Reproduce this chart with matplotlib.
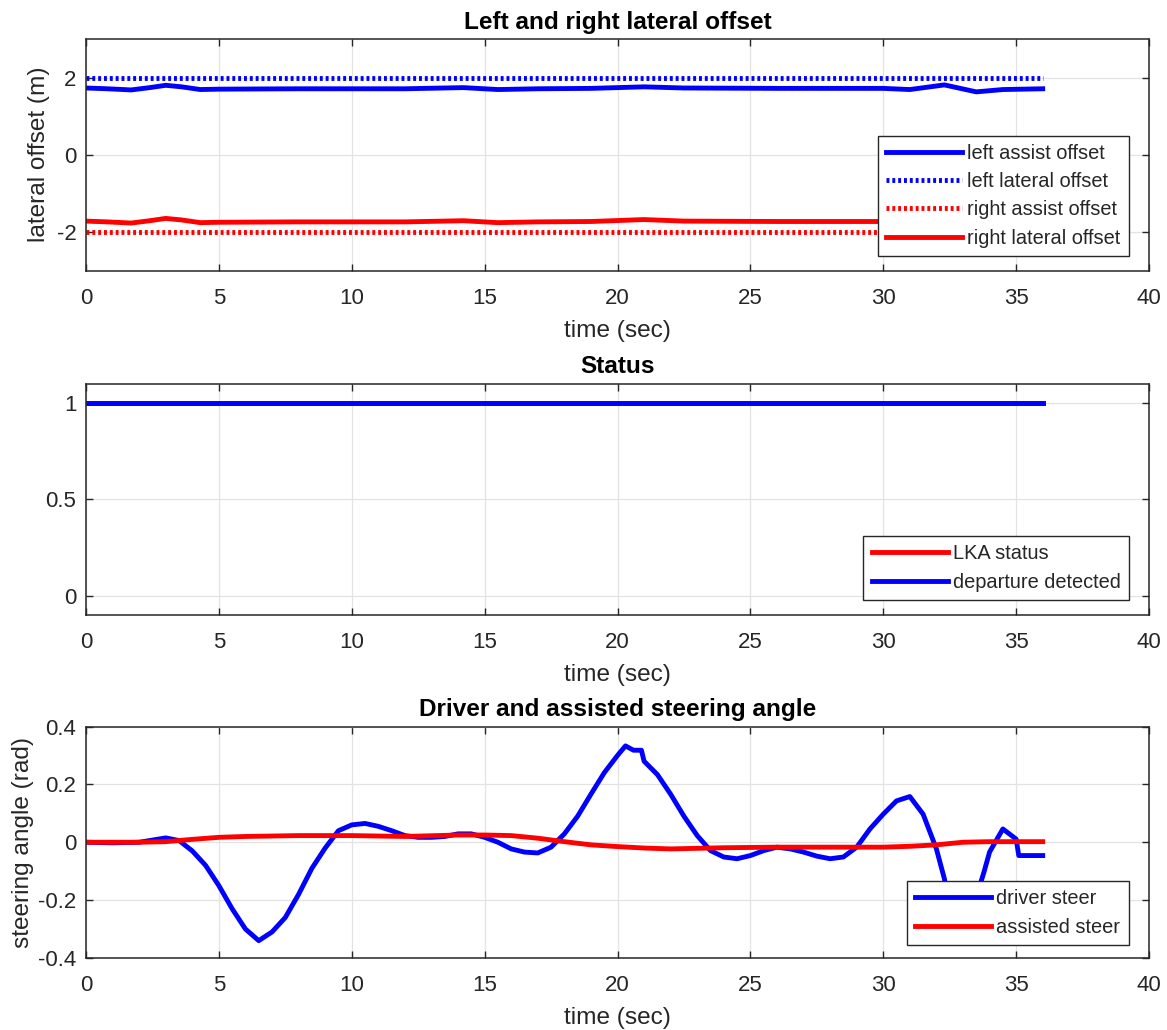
import matplotlib
matplotlib.use("Agg")
import matplotlib.pyplot as plt

plt.rcParams['font.family'] = ['Liberation Sans', 'DejaVu Sans']
plt.rcParams['axes.unicode_minus'] = False

# ---- data: lateral offsets ----
t_off = [0, 0.8, 1.7, 2.4, 3.0, 3.6, 4.3, 5, 8, 12, 14.2, 15.5, 17, 19, 21,
         22.5, 26, 30, 31, 32.3, 33.5, 34.5, 36]
left_assist = [1.73, 1.71, 1.68, 1.74, 1.80, 1.76, 1.69, 1.70, 1.71, 1.71, 1.74,
               1.69, 1.71, 1.72, 1.76, 1.73, 1.72, 1.72, 1.69, 1.81, 1.63, 1.69, 1.71]
right_lateral = [-1.72, -1.74, -1.77, -1.71, -1.65, -1.69, -1.76, -1.75, -1.74,
                 -1.74, -1.71, -1.76, -1.74, -1.73, -1.68, -1.72, -1.73, -1.73,
                 -1.76, -1.64, -1.82, -1.76, -1.74]
t_const = [0, 36]
left_lateral = [2, 2]
right_assist = [-2, -2]

# ---- data: status ----
t_status = [0, 36]
lka_status = [1, 1]
departure = [1, 1]

# ---- data: steering ----
t_drv = [0, 1, 2, 3, 3.5, 4, 4.5, 5, 5.5, 6, 6.5, 7, 7.5, 8, 8.5, 9, 9.5, 10,
         10.5, 11, 11.5, 12, 12.5, 13, 13.5, 14, 14.5, 15, 15.5, 16, 16.5, 17,
         17.5, 18, 18.5, 19, 19.5, 20, 20.3, 20.6, 20.9, 21, 21.5, 22, 22.5, 23,
         23.5, 24, 24.5, 25, 25.5, 26, 26.5, 27, 27.5, 28, 28.5, 29, 29.5, 30,
         30.5, 31, 31.5, 32, 32.3, 32.7, 33, 33.5, 33.8, 34, 34.5, 35, 35.1, 35.5, 36]
driver_steer = [0, -0.002, 0, 0.015, 0.006, -0.03, -0.08, -0.15, -0.23, -0.30,
                -0.34, -0.31, -0.26, -0.18, -0.09, -0.02, 0.04, 0.06, 0.065, 0.055,
                0.04, 0.023, 0.017, 0.017, 0.02, 0.029, 0.029, 0.017, 0, -0.023,
                -0.034, -0.037, -0.017, 0.029, 0.09, 0.166, 0.24, 0.30, 0.333,
                0.318, 0.318, 0.28, 0.234, 0.166, 0.09, 0.023, -0.029, -0.051,
                -0.057, -0.046, -0.029, -0.017, -0.023, -0.034, -0.048, -0.057,
                -0.051, -0.017, 0.046, 0.097, 0.143, 0.158, 0.097, -0.023, -0.126,
                -0.345, -0.30, -0.19, -0.10, -0.034, 0.046, 0.011, -0.046, -0.046,
                -0.046]
t_ast = [0, 2, 3, 4, 5, 6, 8, 10, 12, 14, 15, 16, 17, 18, 19, 20, 21, 22, 24,
         26, 28, 30, 31, 32, 33, 34, 35, 36]
assisted_steer = [0, 0, 0.002, 0.01, 0.017, 0.02, 0.023, 0.023, 0.02, 0.025,
                  0.025, 0.023, 0.014, 0.002, -0.009, -0.015, -0.02, -0.023,
                  -0.019, -0.017, -0.017, -0.017, -0.014, -0.009, 0, 0.002,
                  0.002, 0.002]

BLUE = '#0000ff'
RED = '#ff0000'
LW = 3.5
DOT = (0, (0.6, 0.6))
TXT = '#262626'
FS = 16
FL = 17.6

fig = plt.figure(figsize=(11.67, 10.30), dpi=100)
L, W, H = 86 / 1167, 1063 / 1167, 231.5 / 1030
ax1 = fig.add_axes([L, 1 - 270.5 / 1030, W, H])
ax2 = fig.add_axes([L, 1 - 615 / 1030, W, H])
ax3 = fig.add_axes([L, 1 - 958 / 1030, W, H])


def style(ax):
    ax.set_xlim(0, 40)
    ax.set_xticks(range(0, 41, 5))
    ax.grid(True, color='#e3e3e3', linewidth=0.9)
    ax.set_axisbelow(True)
    ax.tick_params(direction='in', top=True, right=True, labelsize=FS,
                   colors=TXT, length=5, width=1)
    ax.tick_params(axis='x', pad=12.5)
    ax.tick_params(axis='y', pad=7)
    for s in ax.spines.values():
        s.set_color(TXT)
        s.set_linewidth(1.1)
    ax.set_xlabel('time (sec)', fontsize=FL, color=TXT, labelpad=8)


def leg(ax, anchor):
    lg = ax.legend(loc='lower right', bbox_to_anchor=anchor, fontsize=14.4,
                   handlelength=3.8, handletextpad=0.25, labelspacing=0.46,
                   borderpad=0.42, borderaxespad=0, fancybox=False, framealpha=1,
                   edgecolor='#262626')
    lg.get_frame().set_linewidth(1.0)
    for t in lg.get_texts():
        t.set_color(TXT)
    return lg


# Top
ax1.plot(t_off, left_assist, color=BLUE, lw=LW, label='left assist offset')
ax1.plot(t_const, left_lateral, color=BLUE, lw=LW, ls=DOT, label='left lateral offset')
ax1.plot(t_const, right_assist, color=RED, lw=LW, ls=DOT, label='right assist offset')
ax1.plot(t_off, right_lateral, color=RED, lw=LW, label='right lateral offset')
style(ax1)
ax1.set_ylim(-3, 3)
ax1.set_yticks([-2, 0, 2])
ax1.set_ylabel('lateral offset (m)', fontsize=FL, color=TXT, labelpad=5)
ax1.set_title('Left and right lateral offset', fontsize=FL, fontweight='bold', pad=7.5)
leg(ax1, (0.981, 0.063))

# Middle
ax2.plot(t_status, lka_status, color=RED, lw=LW, label='LKA status')
ax2.plot(t_status, departure, color=BLUE, lw=LW, label='departure detected')
style(ax2)
ax2.set_ylim(-0.1, 1.1)
ax2.set_yticks([0, 0.5, 1])
ax2.set_yticklabels(['0', '0.5', '1'])
ax2.set_title('Status', fontsize=FL, fontweight='bold', pad=7.5)
leg(ax2, (0.981, 0.065))

# Bottom
ax3.plot(t_drv, driver_steer, color=BLUE, lw=LW, label='driver steer')
ax3.plot(t_ast, assisted_steer, color=RED, lw=LW, label='assisted steer')
style(ax3)
ax3.set_ylim(-0.4, 0.4)
ax3.set_yticks([-0.4, -0.2, 0, 0.2, 0.4])
ax3.set_yticklabels(['-0.4', '-0.2', '0', '0.2', '0.4'])
ax3.set_ylabel('steering angle (rad)', fontsize=FL, color=TXT, labelpad=3)
ax3.set_title('Driver and assisted steering angle', fontsize=FL, fontweight='bold', pad=7.5)
leg(ax3, (0.981, 0.056))

fig.savefig('out.png', dpi=100, facecolor='white')
